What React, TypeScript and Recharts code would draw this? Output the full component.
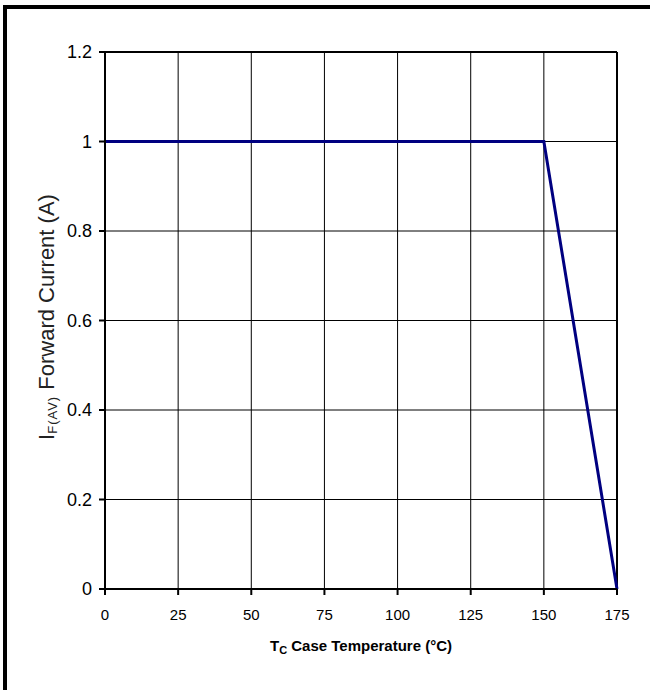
import { LineChart, Line, XAxis, YAxis, CartesianGrid, ReferenceLine } from "recharts"

// derating curve: forward current vs case temperature
const temperature = [0, 150, 175]
const forwardCurrent = [1, 1, 0]
const xTicks = [0, 25, 50, 75, 100, 125, 150, 175]
const yTicks = [0, 0.2, 0.4, 0.6, 0.8, 1, 1.2]

const data = temperature.map((t, i) => ({ t, current: forwardCurrent[i] }))

const FONT = '"Liberation Sans", Arial, sans-serif'

function XTitle(props: any) {
  const vb = props.viewBox || {}
  const cx = vb.x + vb.width / 2
  return (
    <text x={cx} y={651} textAnchor="middle" fontFamily={FONT} fontWeight="bold" fontSize={15} fill="#000">
      <tspan>T</tspan>
      <tspan fontSize={11} dy={3}>C</tspan>
      <tspan dy={-3}> Case Temperature (°C)</tspan>
    </text>
  )
}

function YTitle() {
  const cx = 54
  const cy = 317
  return (
    <text x={cx} y={cy} transform={`rotate(-90, ${cx}, ${cy})`} textAnchor="middle" fontFamily={FONT} fontSize={22} fill="#222">
      <tspan>I</tspan>
      <tspan fontSize={13} dy={3} letterSpacing={1}>F(AV)</tspan>
      <tspan dy={-3}> Forward Current (A)</tspan>
    </text>
  )
}

export default function App() {
  return (
    <div style={{ position: "absolute", left: 0, top: 0, width: 650, height: 690, overflow: "hidden", background: "#fff" }}>
      <div style={{ position: "absolute", left: 3, top: 5, width: 700, height: 700, border: "4px solid #000", boxSizing: "border-box" }} />
      <div style={{ position: "absolute", left: 0, top: 0 }}>
        <LineChart width={650} height={690} data={data} margin={{ top: 52, right: 33, bottom: 41, left: 0 }}>
          <CartesianGrid stroke="#000" strokeWidth={1} vertical horizontal />
          <XAxis
            dataKey="t"
            type="number"
            domain={[0, 175]}
            ticks={xTicks}
            interval={0}
            height={60}
            axisLine={{ stroke: "#000", strokeWidth: 2 }}
            tickLine={{ stroke: "#000", strokeWidth: 2 }}
            tickSize={6}
            tickMargin={14}
            tick={{ fill: "#000", fontSize: 15, fontFamily: FONT }}
            label={<XTitle />}
          />
          <YAxis
            type="number"
            domain={[0, 1.2]}
            ticks={yTicks}
            interval={0}
            width={105}
            axisLine={{ stroke: "#000", strokeWidth: 2 }}
            tickLine={{ stroke: "#000", strokeWidth: 2 }}
            tickSize={6}
            tickMargin={7}
            tick={{ fill: "#000", fontSize: 18, fontFamily: FONT }}
            label={<YTitle />}
          />
          <ReferenceLine y={1.2} stroke="#000" strokeWidth={2} />
          <ReferenceLine x={175} stroke="#000" strokeWidth={2} />
          <Line
            type="linear"
            dataKey="current"
            stroke="#000080"
            strokeWidth={3}
            dot={false}
            isAnimationActive={false}
          />
        </LineChart>
      </div>
    </div>
  )
}
